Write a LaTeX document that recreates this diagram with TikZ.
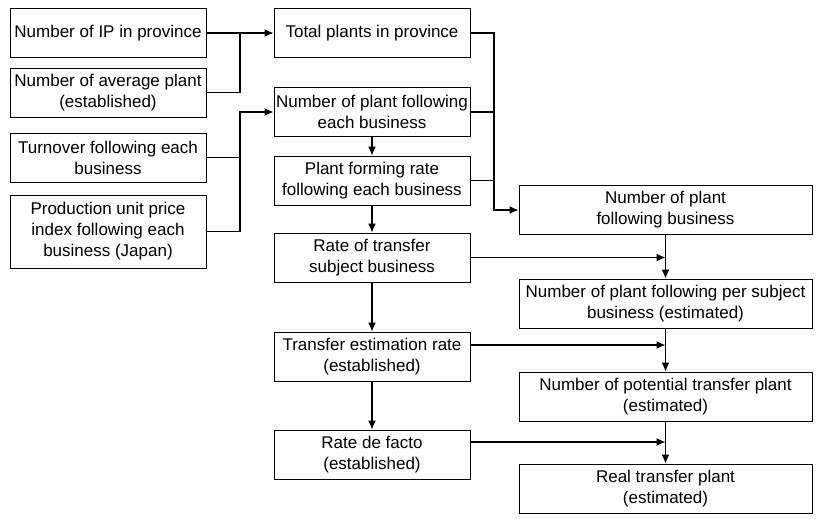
\documentclass[tikz,border=0pt]{standalone}
\usepackage{fontspec}
\setmainfont{Liberation Sans}
\usetikzlibrary{arrows.meta}
\begin{document}
\begin{tikzpicture}[x=1bp,y=-1bp,
  box/.style={draw,line width=0.9bp,inner sep=0pt,align=center,
    minimum height=49bp,font=\fontsize{17bp}{21bp}\selectfont},
  narrowbox/.style={box,minimum width=196bp},
  widebox/.style={box,minimum width=293bp},
  conn/.style={line width=1.3bp},
  arr/.style={conn,-{Latex[length=9bp,width=8bp]}}]
\useasboundingbox (0,0) rectangle (817,519);

% input column
\node[narrowbox] (A) at (108,33) {Number of IP in province};
\node[narrowbox] (B) at (108,92.5) {Number of average plant\\(established)};
\node[narrowbox] (C) at (108,157.5) {Turnover following each\\business};
\node[narrowbox,minimum height=73bp] (D) at (108,231.5) {Production unit price\\index following each\\business (Japan)};

% middle column
\node[narrowbox] (T) at (372,33) {Total plants in province};
\node[narrowbox] (NE) at (372,112) {Number of plant following\\each business};
\node[narrowbox] (PF) at (372,180.5) {Plant forming rate\\following each business};
\node[narrowbox] (RT) at (372,257.5) {Rate of transfer\\subject business};
\node[narrowbox] (TE) at (372,356.5) {Transfer estimation rate\\(established)};
\node[narrowbox] (RF) at (372,454.5) {Rate de facto\\(established)};

% result column
\node[widebox] (NB) at (665.5,210) {Number of plant\\following business};
\node[widebox] (SB) at (665.5,303.5) {Number of plant following per subject\\business (estimated)};
\node[widebox] (PT) at (665.5,396.5) {Number of potential transfer plant\\(estimated)};
\node[widebox] (RL) at (665.5,488.5) {Real transfer plant\\(estimated)};

% junction points
\coordinate (j1) at (240,33);
\coordinate (j2) at (240,112);
\coordinate (j3) at (494,210);

% left merges
\draw[arr] (A.east) -- (T.west);
\draw[conn] (B.east) -| (j1);
\draw[arr] (D.east) -| (j2) -- (NE.west);
\draw[conn] (C.east) -- (C.east -| j2);

% right merge
\draw[arr] (T.east) -| (j3) -- (NB.west);
\draw[conn] (NE.east) -- (NE.east -| j3);
\draw[conn] (PF.east) -- (PF.east -| j3);

% vertical chains
\draw[arr] (NE.south) -- (PF.north);
\draw[arr] (PF.south) -- (RT.north);
\draw[arr] (RT.south) -- (TE.north);
\draw[arr] (TE.south) -- (RF.north);
\draw[arr] (NB.south) -- (SB.north);
\draw[arr] (SB.south) -- (PT.north);
\draw[arr] (PT.south) -- (RL.north);

% rates feeding the result column
\draw[arr] (RT.east) -- (RT.east -| NB.south);
\draw[arr] ([yshift=11.5bp]TE.east) -- ([yshift=11.5bp]TE.east -| SB.south);
\draw[arr] ([yshift=12.5bp]RF.east) -- ([yshift=12.5bp]RF.east -| PT.south);
\end{tikzpicture}
\end{document}
